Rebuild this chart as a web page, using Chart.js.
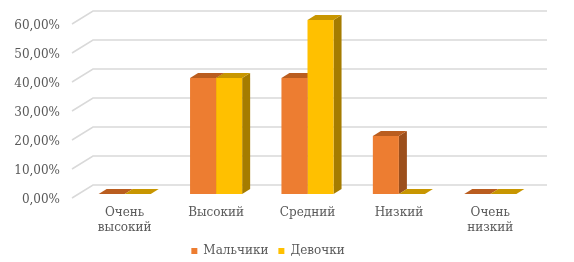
<!DOCTYPE html>
<html>
<head>
<meta charset="utf-8">
<script src="https://cdn.jsdelivr.net/npm/chart.js@4/dist/chart.umd.min.js"></script>
<style>
  html, body { margin: 0; padding: 0; background: #fff; }
  #wrap { width: 574px; height: 262px; }
</style>
</head>
<body>
<div id="wrap"><canvas id="grafico" width="574" height="262"></canvas></div>
<script>
// данные
const categorias = [["Очень", "высокий"], "Высокий", "Средний", "Низкий", ["Очень", "низкий"]];
const mальчики = [0, 0.4, 0.4, 0.2, 0];
const девочки = [0, 0.4, 0.6, 0, 0];
const yTickLabels = ["0,00%", "10,00%", "20,00%", "30,00%", "40,00%", "50,00%", "60,00%"];

// colores: frente, arriba, lado
const naranja = ["#ED7D31", "#BA5D1F", "#9C4F1C"];
const amarillo = ["#FFC000", "#C89600", "#A57C00"];

const fuente = { family: "'DejaVu Serif', serif", size: 12 };
const gris = "#595959";

// profundidad 3D
const dx = 8, dy = 5;

const plugin3d = {
  id: "plugin3d",
  beforeDatasetsDraw(chart) {
    const { ctx, chartArea, scales } = chart;
    const y = scales.y;
    ctx.save();
    // paredes / grid
    ctx.strokeStyle = "#D9D9D9";
    ctx.lineWidth = 1.5;
    y.ticks.forEach((t) => {
      const py = y.getPixelForValue(t.value);
      ctx.beginPath();
      ctx.moveTo(chartArea.left - 7, py + 4);
      ctx.lineTo(chartArea.left + 14, py - 9);
      ctx.lineTo(chartArea.right + 11, py - 9);
      ctx.stroke();
    });
    // caras laterales y superiores
    const colores = [naranja, amarillo];
    const n = categorias.length;
    for (let i = 0; i < n; i++) {
      chart.data.datasets.forEach((ds, d) => {
        const el = chart.getDatasetMeta(d).data[i];
        const left = el.x - el.width / 2;
        const right = el.x + el.width / 2;
        const top = el.y;
        const base = el.base;
        // lado
        ctx.fillStyle = colores[d][2];
        ctx.beginPath();
        ctx.moveTo(right, top);
        ctx.lineTo(right + dx, top - dy);
        ctx.lineTo(right + dx, base - dy);
        ctx.lineTo(right, base);
        ctx.closePath();
        ctx.fill();
        // arriba
        ctx.fillStyle = colores[d][1];
        ctx.beginPath();
        ctx.moveTo(left, top);
        ctx.lineTo(left + dx, top - dy);
        ctx.lineTo(right + dx, top - dy);
        ctx.lineTo(right, top);
        ctx.closePath();
        ctx.fill();
      });
    }
    ctx.restore();
  }
};

new Chart(document.getElementById("grafico").getContext("2d"), {
  type: "bar",
  data: {
    labels: categorias,
    datasets: [
      { label: "Мальчики", data: mальчики, backgroundColor: naranja[0] },
      { label: "Девочки", data: девочки, backgroundColor: amarillo[0] }
    ]
  },
  options: {
    responsive: false,
    animation: false,
    categoryPercentage: 0.57,
    barPercentage: 1,
    layout: { padding: { top: 20, right: 38, left: 0, bottom: -5 } },
    plugins: {
      tooltip: { enabled: false },
      legend: {
        position: "bottom",
        labels: {
          font: fuente,
          color: gris,
          boxWidth: 6,
          boxHeight: 6,
          padding: 10
        }
      }
    },
    scales: {
      x: {
        grid: { display: false, drawTicks: false },
        border: { display: false },
        ticks: { font: { ...fuente, lineHeight: 1.2 }, color: gris, padding: 12, maxRotation: 0 },
        afterFit(scale) { scale.height = 41; }
      },
      y: {
        min: 0,
        max: 0.6,
        grid: { display: false, drawTicks: false },
        border: { display: false },
        ticks: {
          stepSize: 0.1,
          font: fuente,
          color: gris,
          padding: 19,
          labelOffset: 6,
          callback: (v, i) => yTickLabels[i]
        },
        afterFit(scale) {
          scale.width = 79;
          scale.paddingTop = 0;
          scale.paddingBottom = 0;
        }
      }
    }
  },
  plugins: [plugin3d]
});
</script>
</body>
</html>
